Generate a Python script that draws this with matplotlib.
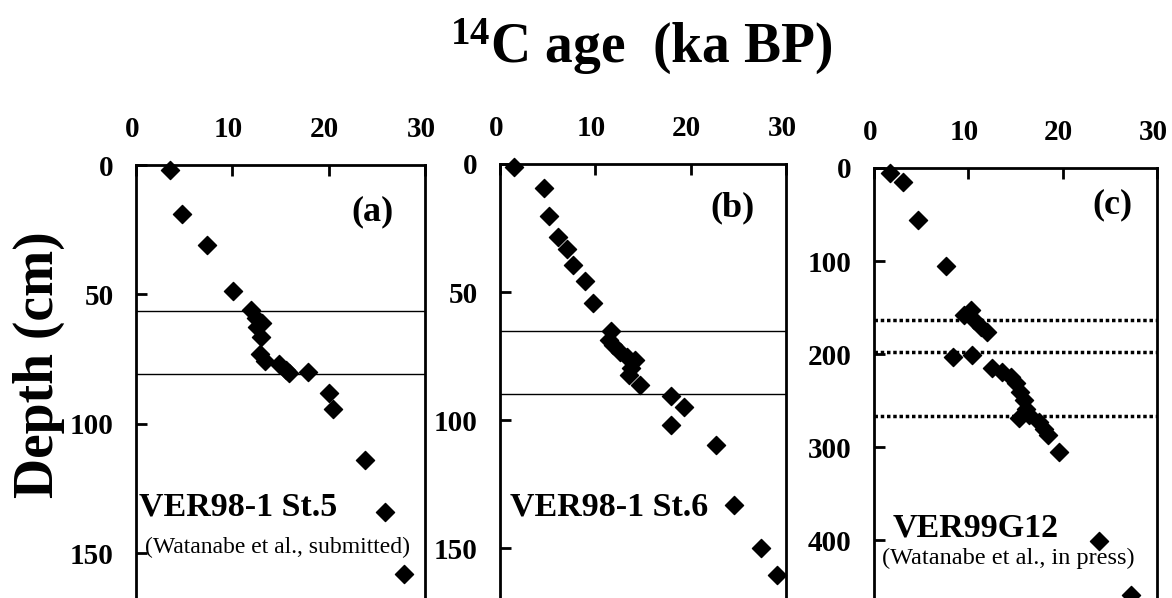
import matplotlib
matplotlib.use("Agg")
import matplotlib.pyplot as plt
import matplotlib.transforms as mtransforms

plt.rcParams['font.family'] = ['Liberation Serif', 'DejaVu Serif']
plt.rcParams['font.weight'] = 'bold'
plt.rcParams['mathtext.fontset'] = 'custom'
plt.rcParams['mathtext.rm'] = 'Liberation Serif:bold'
plt.rcParams['mathtext.bf'] = 'Liberation Serif:bold'

# Datos (edad 14C en ka BP, profundidad en cm)
age_a = [3.5, 4.8, 7.4, 10.1, 11.9, 12.5, 13.1, 12.6, 13.0, 12.9, 13.4, 14.8, 15.6, 15.9,
         17.9, 20.0, 20.5, 23.8, 25.8, 27.8]
depth_a = [2, 19, 31, 48.5, 56, 59, 61, 62.5, 66.5, 73, 75.5, 77, 79, 80.5,
           80, 88, 94.3, 114, 134, 158]
lines_a = [56.2, 80.8]

age_b = [1.5, 4.6, 5.1, 6.1, 7.0, 7.65, 8.9, 9.75, 11.65, 11.4, 11.9, 12.6, 13.3, 14.2,
         13.7, 13.5, 14.7, 17.9, 19.3, 17.9, 22.7, 24.5, 27.4, 29.05]
depth_b = [1.3, 9.5, 20.3, 28.6, 33.3, 39.5, 45.6, 54.4, 65.1, 68.8, 70.7, 73.3, 75.3, 76.6,
           79.8, 82.4, 86.3, 90.6, 94.8, 102, 109.8, 133, 150, 160.5]
lines_b = [65.2, 90]

age_c = [1.7, 3.1, 4.7, 7.6, 9.5, 10.3, 10.6, 11.3, 12.0, 8.4, 10.4, 12.5, 13.6, 14.5,
         15.0, 15.5, 15.9, 16.1, 15.35, 16.4, 17.5, 18.0, 18.4, 19.6, 23.8, 27.2]
depth_c = [5, 14.7, 56, 105, 158, 152.7, 163.4, 170.6, 176, 203, 201, 215, 219, 224.4,
           231.5, 240.5, 249.5, 258.4, 269, 265.6, 272.8, 280, 287, 305, 401, 459]
lines_c = [163.4, 197.5, 266]

x_ticks = [0, 10, 20, 30]

W, H = 1172, 598
fig = plt.figure(figsize=(W / 100, H / 100), dpi=100)
shift = mtransforms.ScaledTranslation(-4 / 100, 0, fig.dpi_scale_trans)


def make_axes(left, right, top, ymax, yticks):
    ax = fig.add_axes([left / W, 0, (right - left) / W, (H - top) / H])
    ax.set_xlim(0, 30)
    ax.set_ylim(ymax, 0)
    ax.spines['bottom'].set_visible(False)
    for s in ['left', 'top', 'right']:
        ax.spines[s].set_linewidth(2)
    ax.xaxis.tick_top()
    ax.set_xticks(x_ticks)
    ax.set_yticks(yticks)
    ax.tick_params(axis='x', direction='in', length=8, width=2, pad=16, labelsize=21)
    ax.tick_params(axis='y', direction='in', length=8, width=2, pad=16, labelsize=21)
    for lab in ax.get_xticklabels():
        lab.set_transform(lab.get_transform() + shift)
    return ax


ax_a = make_axes(136, 425, 165, 167.2, [0, 50, 100, 150])
ax_b = make_axes(500, 786, 164, 169.5, [0, 50, 100, 150])
ax_c = make_axes(874, 1157, 168, 462, [0, 100, 200, 300, 400])

ax_a.scatter(age_a, depth_a, marker='D', s=85, color='black', clip_on=False, zorder=3)
for d in lines_a:
    ax_a.axhline(d, color='black', lw=1)
ax_b.scatter(age_b, depth_b, marker='D', s=85, color='black', clip_on=False, zorder=3)
for d in lines_b:
    ax_b.axhline(d, color='black', lw=1)
ax_c.scatter(age_c, depth_c, marker='D', s=85, color='black', clip_on=False, zorder=3)
for d in lines_c:
    ax_c.axhline(d, color='black', lw=2.5, linestyle=(0, (1, 0.8)))

# etiquetas de los paneles
ax_a.text(0.89, 0.891, '(a)', transform=ax_a.transAxes, fontsize=26, ha='right', va='center')
ax_b.text(0.89, 0.90, '(b)', transform=ax_b.transAxes, fontsize=26, ha='right', va='center')
ax_c.text(0.915, 0.914, '(c)', transform=ax_c.transAxes, fontsize=26, ha='right', va='center')

ax_a.text(0.3, 132, 'VER98-1 St.5', fontsize=24.5, ha='left', va='center')
ax_a.text(0.9, 147.5, '(Watanabe et al., submitted)', fontsize=17, fontweight='normal',
          ha='left', va='center')
ax_b.text(1.0, 134, 'VER98-1 St.6', fontsize=24.5, ha='left', va='center')
ax_c.text(2.0, 387, 'VER99G12', fontsize=24.5, ha='left', va='center')
ax_c.text(0.8, 419, '(Watanabe et al., in press)', fontsize=17.5, fontweight='normal',
          ha='left', va='center')

fig.text(641 / W, 1 - 63 / H, r'$\mathrm{^{14}}$C age  (ka BP)', fontsize=40,
         ha='center', va='baseline')
fig.text(39 / W, 1 - 365 / H, 'Depth (cm)', fontsize=40, rotation=90,
         ha='center', va='center')

fig.savefig('out.png', dpi=100)
